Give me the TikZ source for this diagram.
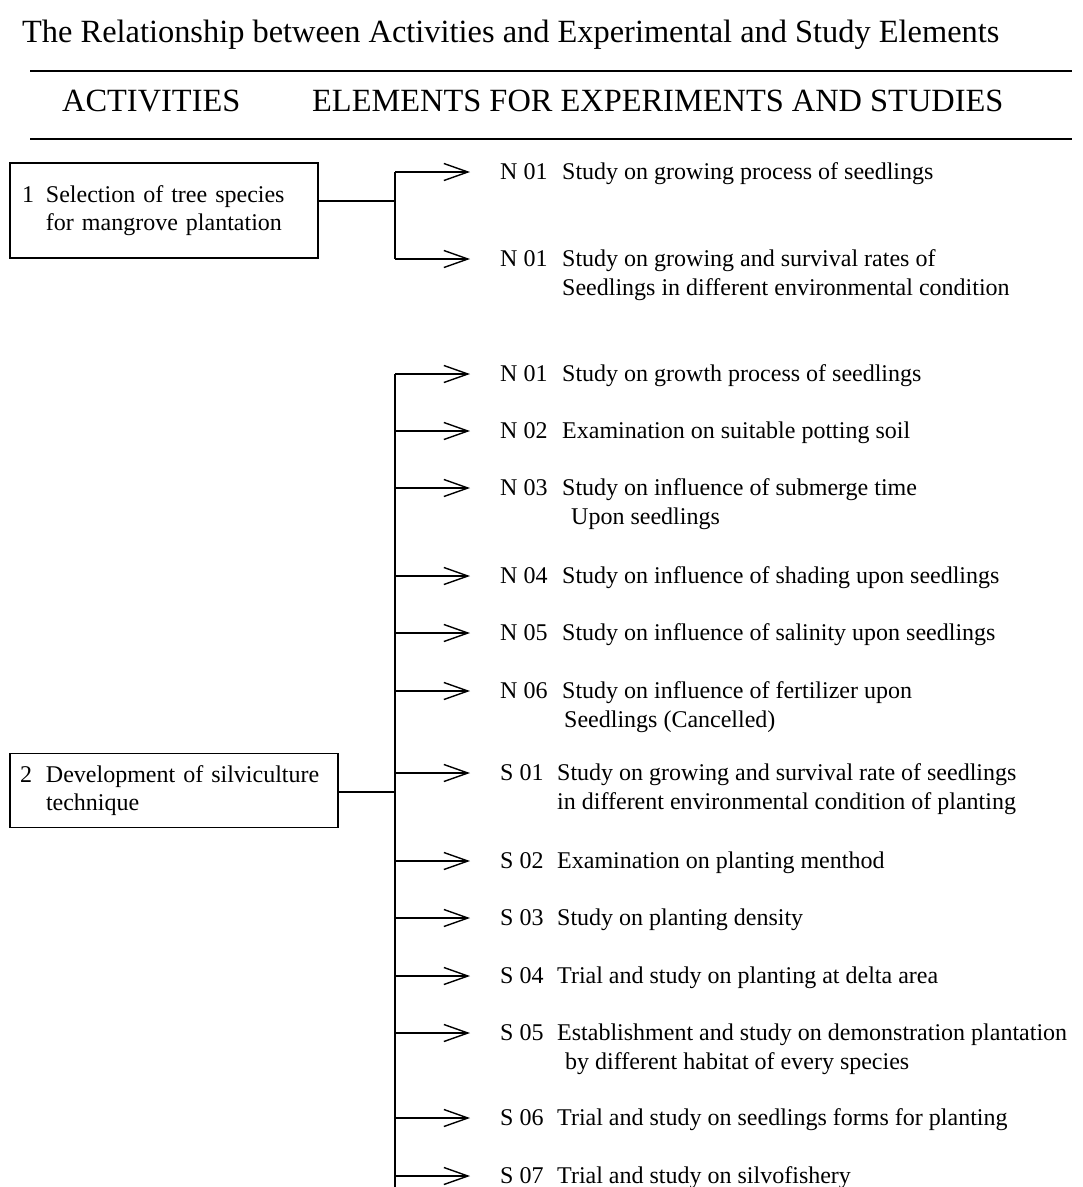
\documentclass[tikz,border=0pt]{standalone}
\usepackage{fontspec}
\setmainfont{Liberation Serif}
\usetikzlibrary{arrows.meta}
\tikzset{
  ln/.style={line width=1.5pt},
  arr/.style={line width=1.5pt, -{Straight Barb[length=24pt,width=17pt,line width=1.4pt]}, shorten >=26pt},
  abox/.style={draw, line width=1.3pt, inner ysep=0pt, align=left, font=\fontsize{24}{28}\selectfont},
  code/.style={inner sep=4pt, font=\fontsize{24}{29}\selectfont},
  desc/.style={inner sep=4pt, font=\fontsize{24}{29}\selectfont},
  ttl/.style={inner sep=0pt, font=\fontsize{32.4}{36}\selectfont},
}
\newcommand{\twoline}[2]{\begin{tabular}[t]{@{}l@{}}#1\\#2\end{tabular}}
\begin{document}
\begin{tikzpicture}[x=1pt,y=-1pt]
\useasboundingbox (0,0) rectangle (1083,1187);
% title and header
\node[ttl, anchor=base west] (title) at (22,42) {The Relationship between Activities and Experimental and Study Elements};
\coordinate (r1a) at (30,71); \coordinate (r1b) at (1072,71);
\coordinate (r2a) at (30,139); \coordinate (r2b) at (1072,139);
\draw[ln] (r1a) -- (r1b);
\draw[ln] (r2a) -- (r2b);
\node[ttl, anchor=base west] (hA) at (62,111) {ACTIVITIES};
\node[ttl, anchor=base west] (hE) at (312,111) {ELEMENTS FOR EXPERIMENTS AND STUDIES};
% x positions
\coordinate (bus) at (395,0);
\coordinate (xN) at (558,0);
\coordinate (xS) at (553,0);
% activity boxes
\node[abox, inner xsep=12pt, text width=284pt, minimum width=308pt, minimum height=95pt] (a1) at (164,210.5)
  {\begin{tabular}{@{}l@{\hspace{12pt}}l@{}}1 & Selection of tree species\\ & for mangrove plantation\end{tabular}};
\node[abox, inner xsep=10pt, text width=308pt, minimum width=328pt, minimum height=74pt] (a2) at (174,790.5)
  {\begin{tabular}{@{}l@{\hspace{14pt}}l@{}}2 & Development of silviculture\\ & technique\end{tabular}};
% group 1 items
\node[code, anchor=west] (c1) at (496,172) {N 01};
\node[desc, anchor=base west] (d1) at (c1.base -| xN) {Study on growing process of seedlings};
\node[code, anchor=west] (c2) at (496,259) {N 01};
\node[desc, anchor=base west] (d2) at (c2.base -| xN) {\twoline{Study on growing and survival rates of}{Seedlings in different environmental condition}};
% group 2 items
\node[code, anchor=west] (c3) at (496,374) {N 01};
\node[desc, anchor=base west] (d3) at (c3.base -| xN) {Study on growth process of seedlings};
\node[code, anchor=west] (c4) at (496,431) {N 02};
\node[desc, anchor=base west] (d4) at (c4.base -| xN) {Examination on suitable potting soil};
\node[code, anchor=west] (c5) at (496,488) {N 03};
\node[desc, anchor=base west] (d5) at (c5.base -| xN) {\twoline{Study on influence of submerge time}{\hspace*{9pt}Upon seedlings}};
\node[code, anchor=west] (c6) at (496,576) {N 04};
\node[desc, anchor=base west] (d6) at (c6.base -| xN) {Study on influence of shading upon seedlings};
\node[code, anchor=west] (c7) at (496,633) {N 05};
\node[desc, anchor=base west] (d7) at (c7.base -| xN) {Study on influence of salinity upon seedlings};
\node[code, anchor=west] (c8) at (496,691) {N 06};
\node[desc, anchor=base west] (d8) at (c8.base -| xN) {\twoline{Study on influence of fertilizer upon}{\hspace*{2pt}Seedlings (Cancelled)}};
\node[code, anchor=west] (c9) at (496,773) {S 01};
\node[desc, anchor=base west] (d9) at (c9.base -| xS) {\twoline{Study on growing and survival rate of seedlings}{in different environmental condition of planting}};
\node[code, anchor=west] (c10) at (496,861) {S 02};
\node[desc, anchor=base west] (d10) at (c10.base -| xS) {Examination on planting menthod};
\node[code, anchor=west] (c11) at (496,918) {S 03};
\node[desc, anchor=base west] (d11) at (c11.base -| xS) {Study on planting density};
\node[code, anchor=west] (c12) at (496,976) {S 04};
\node[desc, anchor=base west] (d12) at (c12.base -| xS) {Trial and study on planting at delta area};
\node[code, anchor=west] (c13) at (496,1033) {S 05};
\node[desc, anchor=base west] (d13) at (c13.base -| xS) {\twoline{Establishment and study on demonstration plantation}{\hspace*{8pt}by different habitat of every species}};
\node[code, anchor=west] (c14) at (496,1118) {S 06};
\node[desc, anchor=base west] (d14) at (c14.base -| xS) {Trial and study on seedlings forms for planting};
\node[code, anchor=west] (c15) at (496,1176) {S 07};
\node[desc, anchor=base west] (d15) at (c15.base -| xS) {Trial and study on silvofishery};
% connectors group 1
\coordinate (j1) at (395,201);
\draw[ln] (a1.east |- j1) -- (j1);
\draw[ln] (c1.west -| bus) -- (c2.west -| bus);
\foreach \i in {1,2} \draw[arr] (c\i.west -| bus) -- (c\i.west);
% connectors group 2
\coordinate (j2) at (395,792);
\coordinate (bend) at (395,1187);
\draw[ln] (a2.east |- j2) -- (j2);
\draw[ln] (c3.west -| bus) -- (bend);
\foreach \i in {3,...,15} \draw[arr] (c\i.west -| bus) -- (c\i.west);
\end{tikzpicture}
\end{document}
